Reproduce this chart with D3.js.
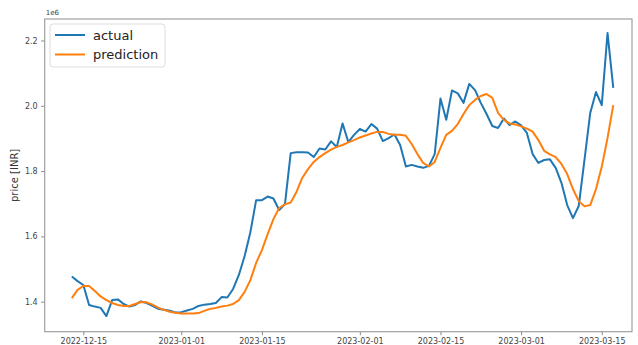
<!DOCTYPE html>
<html lang="en">
<head>
    <meta charset="UTF-8">
    <title>price prediction</title>
    <style>
        body { margin: 0; background: #fff; }
        text { font-family: "DejaVu Sans", sans-serif; }
    </style>
</head>
<body>
<script src="https://d3js.org/d3.v7.min.js"></script>
<script>
    let w = 638, h = 345;

    // daily values, first day 2022-12-13, in millions of INR
    let startDate = new Date(Date.UTC(2022, 11, 13));
    let actual = [
        1.477, 1.463, 1.451, 1.390, 1.385, 1.381, 1.356, 1.405, 1.407, 1.393,
        1.385, 1.390, 1.401, 1.396, 1.387, 1.378, 1.375, 1.372, 1.367, 1.368,
        1.373, 1.378, 1.387, 1.391, 1.393, 1.396, 1.414, 1.413, 1.439, 1.482,
        1.540, 1.613, 1.711, 1.711, 1.722, 1.716, 1.681, 1.699, 1.855, 1.858,
        1.858, 1.857, 1.843, 1.869, 1.866, 1.891, 1.874, 1.946, 1.889, 1.911,
        1.929, 1.921, 1.944, 1.930, 1.892, 1.901, 1.912, 1.880, 1.814, 1.819,
        1.814, 1.810, 1.816, 1.852, 2.022, 1.957, 2.047, 2.038, 2.009, 2.067,
        2.048, 2.009, 1.975, 1.938, 1.932, 1.961, 1.941, 1.952, 1.940, 1.917,
        1.852, 1.825, 1.834, 1.836, 1.810, 1.764, 1.696, 1.656, 1.693, 1.834,
        1.978, 2.042, 2.002, 2.223, 2.055
    ];
    let prediction = [
        1.411, 1.436, 1.448, 1.448, 1.433, 1.416, 1.405, 1.396, 1.390, 1.387,
        1.387, 1.393, 1.399, 1.398, 1.391, 1.382, 1.375, 1.369, 1.366, 1.364,
        1.364, 1.364, 1.365, 1.372, 1.378, 1.381, 1.385, 1.388, 1.393, 1.405,
        1.430, 1.466, 1.519, 1.558, 1.607, 1.653, 1.687, 1.698, 1.704, 1.736,
        1.779, 1.806, 1.828, 1.843, 1.855, 1.866, 1.874, 1.880, 1.888, 1.895,
        1.903, 1.909, 1.915, 1.920, 1.920, 1.914, 1.911, 1.911, 1.908, 1.883,
        1.852, 1.825, 1.814, 1.828, 1.871, 1.911, 1.923, 1.944, 1.975, 2.002,
        2.018, 2.030, 2.036, 2.024, 1.978, 1.957, 1.946, 1.943, 1.937, 1.930,
        1.921, 1.895, 1.862, 1.851, 1.843, 1.822, 1.791, 1.745, 1.708, 1.692,
        1.696, 1.745, 1.813, 1.901, 2.002
    ];
    let xTickDates = ["2022-12-15", "2023-01-01", "2023-01-15", "2023-02-01",
        "2023-02-15", "2023-03-01", "2023-03-15"];
    let yTicks = [1.4, 1.6, 1.8, 2.0, 2.2];
    let seriesNames = ["actual", "prediction"];
    let colors = ["#1f77b4", "#ff7f0e"];

    let inner = {left: 44.7, right: 632, top: 19, bottom: 331.7};

    let parse = d3.utcParse("%Y-%m-%d");
    let ref = parse("2022-12-15");

    let x = d3.scaleUtc()
        .domain([d3.utcHour.offset(ref, -6.70 * 24), d3.utcHour.offset(ref, 95.26 * 24)])
        .range([inner.left, inner.right]);

    let y = d3.scaleLinear()
        .domain([1.3081e6, 2.2658e6])
        .range([inner.bottom, inner.top]);

    let svg = d3.select("body")
        .append("svg")
        .attr("width", w)
        .attr("height", h);

    // axes
    let xAxis = d3.axisBottom(x)
        .tickValues(xTickDates.map(parse))
        .tickFormat(d3.utcFormat("%Y-%m-%d"))
        .tickSizeOuter(0)
        .tickSize(3.5)
        .tickPadding(3);

    let yAxis = d3.axisLeft(y)
        .tickValues(yTicks.map(function (v) { return v * 1e6; }))
        .tickFormat(function (d) { return (d / 1e6).toFixed(1); })
        .tickSizeOuter(0)
        .tickSize(3.5)
        .tickPadding(3.5);

    let gx = svg.append("g")
        .attr("transform", "translate(0," + inner.bottom + ")")
        .call(xAxis);
    let gy = svg.append("g")
        .attr("transform", "translate(" + inner.left + ",0)")
        .call(yAxis);

    [gx, gy].forEach(function (g) {
        g.select(".domain").remove();
        g.selectAll(".tick line").attr("stroke", "#888");
        g.selectAll(".tick text")
            .attr("fill", "#444")
            .style("font-size", "8px");
    });

    // frame
    svg.append("rect")
        .attr("x", inner.left)
        .attr("y", inner.top)
        .attr("width", inner.right - inner.left)
        .attr("height", inner.bottom - inner.top)
        .attr("fill", "none")
        .attr("stroke", "#a0a0a0")
        .attr("stroke-width", 1.2);

    svg.append("text")
        .attr("x", inner.left + 1)
        .attr("y", inner.top - 4)
        .attr("fill", "#444")
        .style("font-size", "7px")
        .text("1e6");

    svg.append("text")
        .attr("transform", "translate(18," + ((inner.top + inner.bottom) / 2) + ") rotate(-90)")
        .attr("text-anchor", "middle")
        .attr("fill", "#333")
        .style("font-size", "10px")
        .text("price [INR]");

    // lines
    let line = d3.line()
        .x(function (d, i) { return x(d3.utcDay.offset(startDate, i)); })
        .y(function (d) { return y(d * 1e6); });

    [actual, prediction].forEach(function (s, k) {
        svg.append("path")
            .datum(s)
            .attr("d", line)
            .attr("fill", "none")
            .attr("stroke", colors[k])
            .attr("stroke-width", 2)
            .attr("stroke-linejoin", "round");
    });

    // legend
    let lg = svg.append("g");
    lg.append("rect")
        .attr("x", 50)
        .attr("y", 24)
        .attr("width", 115)
        .attr("height", 43)
        .attr("rx", 3)
        .attr("fill", "#fff")
        .attr("fill-opacity", 0.8)
        .attr("stroke", "#ddd");
    seriesNames.forEach(function (n, k) {
        let yy = 35 + k * 19.5;
        lg.append("line")
            .attr("x1", 55).attr("x2", 85)
            .attr("y1", yy).attr("y2", yy)
            .attr("stroke", colors[k])
            .attr("stroke-width", 2);
        lg.append("text")
            .attr("x", 93)
            .attr("y", yy + 4.5)
            .attr("fill", "#222")
            .style("font-size", "13px")
            .text(n);
    });
</script>
</body>
</html>
